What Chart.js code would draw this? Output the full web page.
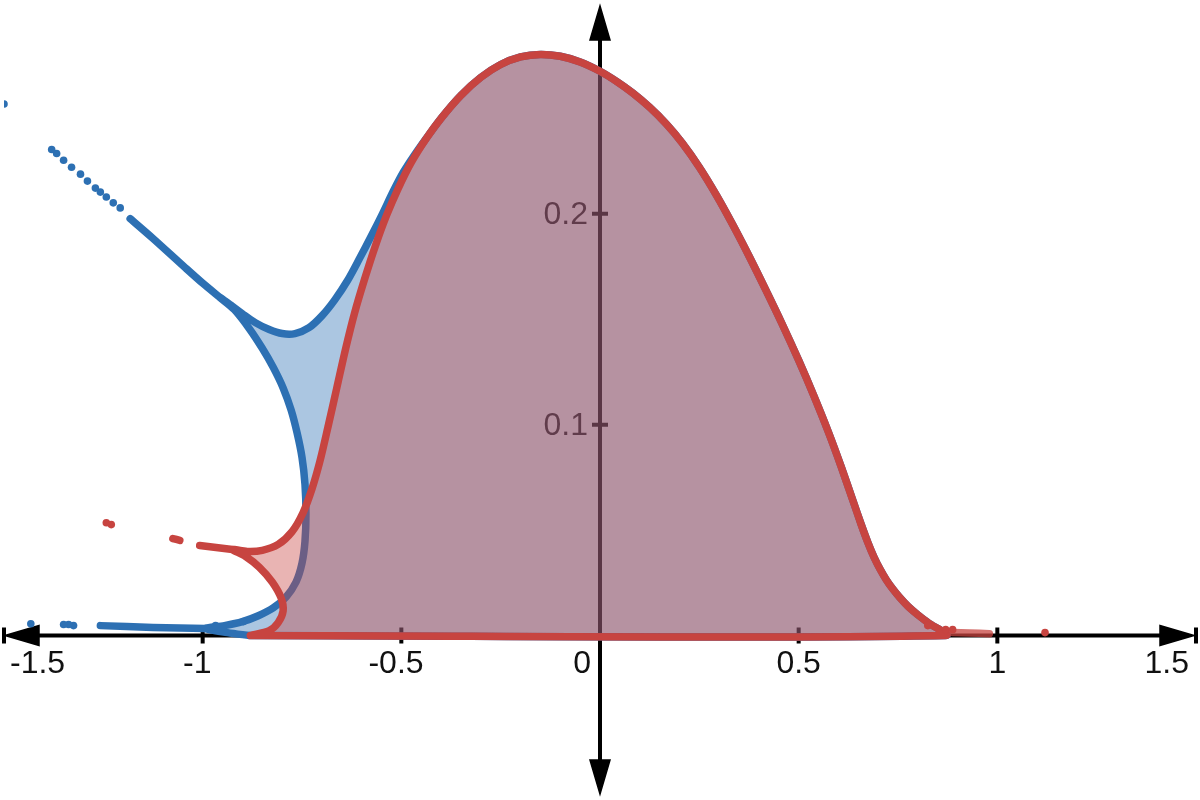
<!DOCTYPE html>
<html><head><meta charset="utf-8">
<script src="https://cdn.jsdelivr.net/npm/chart.js@4.4.1/dist/chart.umd.min.js"></script>
<style>html,body{margin:0;padding:0;background:#fff}#wrap{width:1200px;height:800px;position:relative}</style>
</head><body><div id="wrap"><canvas id="c"></canvas></div>
<script>
// ---- axis ticks ----
const xTickValues = [-1.5, -1, -0.5, 0.5, 1, 1.5];
const xTickLabels = ['-1.5', '-1', '-0.5', '0.5', '1', '1.5'];
const yTickValues = [0.1, 0.2];
const yTickLabels = ['0.1', '0.2'];
const originLabel = '0';
const xRange = [-1.5, 1.5];
const yRange = [-0.0761, 0.2995];

// ---- shared base and hump (right side, over the peak, to the left) ----
const baseX = [-0.88, 0.87];
const baseY = [0, 0];
const humpX = [0.825, 0.80, 0.775, 0.755, 0.7375, 0.72, 0.705, 0.69, 0.675, 0.6575, 0.6375, 0.6075, 0.575, 0.5375, 0.50, 0.4575, 0.4175, 0.375, 0.3325, 0.2925, 0.25, 0.2075, 0.1675, 0.125, 0.0825, 0.0425, 0, -0.05, -0.10, -0.15, -0.20, -0.25, -0.30, -0.35, -0.40];
const humpY = [0.0062, 0.0098, 0.0139, 0.0179, 0.0219, 0.0266, 0.0314, 0.0370, 0.0437, 0.0526, 0.0635, 0.0798, 0.0964, 0.1140, 0.1305, 0.1481, 0.1638, 0.1800, 0.1954, 0.2090, 0.2221, 0.2335, 0.2425, 0.2505, 0.2573, 0.2627, 0.2676, 0.2720, 0.2747, 0.2756, 0.2744, 0.2708, 0.2647, 0.2562, 0.2453];

// ---- red curve, left part (swallowtail) ----
const redLeftX = [-0.4375, -0.475, -0.5075, -0.5375, -0.565, -0.5925, -0.6175, -0.64, -0.6625, -0.685, -0.705, -0.725, -0.7475, -0.775, -0.81, -0.85, -0.8875, -0.925, -0.8925, -0.8575, -0.825, -0.8025, -0.7975, -0.81, -0.8325, -0.88];
const redLeftY = [0.2357, 0.2244, 0.2122, 0.1991, 0.1850, 0.1690, 0.1531, 0.1362, 0.1174, 0.0986, 0.0826, 0.0695, 0.0582, 0.0493, 0.0432, 0.0404, 0.0399, 0.0408, 0.0376, 0.0324, 0.0254, 0.0178, 0.0117, 0.0061, 0.0023, 0];
const redTailLeftX = [-0.925, -1.0075];
const redTailLeftY = [0.0408, 0.0427];
const redDashLeftX = [-1.0575, -1.075];
const redDashLeftY = [0.0451, 0.0460];
const redTailRightX = [0.8875, 0.93, 0.98];
const redTailRightY = [0.0014, 0.0012, 0.0009];
const redDotsX = [-1.23, -1.2425, 0.825, 0.87, 0.8875, 1.12];
const redDotsY = [0.0526, 0.0535, 0.0047, 0.0028, 0.0028, 0.0014];

// ---- blue curve, left part ----
const blueLeftX = [-0.4375, -0.4675, -0.495, -0.52, -0.5475, -0.575, -0.605, -0.635, -0.6675, -0.70, -0.7325, -0.7675, -0.80, -0.8325, -0.8675, -0.90, -0.93, -0.955, -0.92, -0.8825, -0.85, -0.8225, -0.7975, -0.7775, -0.7625, -0.75, -0.7425, -0.74, -0.7425, -0.75, -0.765, -0.79, -0.8225, -0.86, -0.90, -0.945, -0.9925, -0.9375, -0.8825];
const blueLeftY = [0.2357, 0.2277, 0.2197, 0.2108, 0.2000, 0.1897, 0.1789, 0.1685, 0.1592, 0.1516, 0.1460, 0.1432, 0.1432, 0.1451, 0.1484, 0.1526, 0.1568, 0.1601, 0.1545, 0.1455, 0.1362, 0.1272, 0.1174, 0.1070, 0.0962, 0.0845, 0.0718, 0.0577, 0.0446, 0.0343, 0.0254, 0.0183, 0.0131, 0.0094, 0.0066, 0.0047, 0.0033, 0.0014, 0];
const blueTailUpperX = [-0.955, -1.0, -1.0425, -1.125, -1.1825];
const blueTailUpperY = [0.1601, 0.1671, 0.1742, 0.1883, 0.1977];
const blueTailLowerX = [-0.9925, -1.125, -1.2575];
const blueTailLowerY = [0.0033, 0.0038, 0.0047];
const blueDotsX = [-1.2075, -1.225, -1.2425, -1.2575, -1.27, -1.29, -1.3075, -1.33, -1.35, -1.3675, -1.38, -1.5, -1.325, -1.3375, -1.35, -1.4325, -0.9675, -0.8975];
const blueDotsY = [0.2028, 0.2052, 0.2080, 0.2103, 0.2122, 0.2155, 0.2188, 0.2221, 0.2254, 0.2286, 0.2305, 0.2521, 0.0047, 0.0052, 0.0052, 0.0056, 0.0047, 0.0066];

const BLUE = '#2d70b3', RED = '#c74440';
const BLUE_FILL = 'rgba(45,112,179,0.4)', RED_FILL = 'rgba(199,68,64,0.4)';

const pts = (xs, ys) => xs.map((x, i) => ({x: x, y: ys[i]}));
const redShape = [...pts(baseX, baseY), ...pts(humpX, humpY), ...pts(redLeftX, redLeftY)];
const blueShape = [...pts(baseX, baseY), ...pts(humpX, humpY), ...pts(blueLeftX, blueLeftY)];

function lineDs(data, color, order, extra) {
  return Object.assign({data, showLine: true, borderColor: color, borderWidth: 7.5, pointRadius: 0,
    fill: false, tension: 0.3, borderCapStyle: 'round', borderJoinStyle: 'round', order}, extra || {});
}
function dotDs(data, color, order) {
  return {data, showLine: false, pointRadius: 3.8, pointBorderWidth: 0, backgroundColor: color,
    pointBackgroundColor: color, order};
}

const axesPlugin = {
  id: 'desmosAxes',
  beforeDatasetsDraw(chart) {
    const {ctx, chartArea: a, scales: {x, y}} = chart;
    const x0 = x.getPixelForValue(0), y0 = y.getPixelForValue(0);
    ctx.save();
    ctx.strokeStyle = '#000'; ctx.fillStyle = '#000'; ctx.lineWidth = 4;
    ctx.beginPath();
    ctx.moveTo(a.left + 20, y0); ctx.lineTo(a.right - 20, y0);
    ctx.moveTo(x0, a.top + 20); ctx.lineTo(x0, a.bottom - 20);
    xTickValues.forEach(v => { const p = x.getPixelForValue(v); ctx.moveTo(p, y0 - 8); ctx.lineTo(p, y0 + 8); });
    yTickValues.forEach(v => { const p = y.getPixelForValue(v); ctx.moveTo(x0 - 8, p); ctx.lineTo(x0 + 8, p); });
    ctx.stroke();
    // arrowheads
    const L = 34, H = 10;
    ctx.lineWidth = 1.5; ctx.lineJoin = 'miter';
    const tri = (p1, p2, p3) => { ctx.beginPath(); ctx.moveTo(...p1); ctx.lineTo(...p2); ctx.lineTo(...p3); ctx.closePath(); ctx.fill(); ctx.stroke(); };
    tri([a.left + 1, y0], [a.left + 1 + L, y0 - H], [a.left + 1 + L, y0 + H]);
    tri([a.right - 2, y0], [a.right - 2 - L, y0 - H], [a.right - 2 - L, y0 + H]);
    tri([x0, a.top + 2], [x0 - H, a.top + 2 + L], [x0 + H, a.top + 2 + L]);
    tri([x0, a.bottom - 2], [x0 - H, a.bottom - 2 - L], [x0 + H, a.bottom - 2 - L]);
    // labels
    ctx.font = "32px 'Liberation Sans', Arial, sans-serif";
    ctx.textBaseline = 'alphabetic'; ctx.textAlign = 'left';
    ctx.fillStyle = '#111';
    xTickValues.forEach((v, i) => {
      const s = xTickLabels[i];
      const p = x.getPixelForValue(v);
      const neg = s.startsWith('-');
      const body = neg ? s.slice(1) : s;
      const wb = ctx.measureText(body).width, wm = neg ? ctx.measureText('-').width : 0;
      let left = p - wb / 2 - wm;
      const total = wb + wm;
      if (left < a.left + 6) left = a.left + 6;
      if (left + total > a.right - 7) left = a.right - 7 - total;
      ctx.fillText(s, left, y0 + 37);
    });
    ctx.textAlign = 'right';
    ctx.fillText(originLabel, x0 - 9, y0 + 37);
    yTickValues.forEach((v, i) => {
      ctx.fillText(yTickLabels[i], x0 - 12, y.getPixelForValue(v) + 10);
    });
    ctx.restore();
  }
};

new Chart(document.getElementById('c'), {
  type: 'scatter',
  data: {
    datasets: [
      dotDs(pts(redDotsX, redDotsY), RED, 1),
      lineDs(pts(redTailLeftX, redTailLeftY), RED, 1),
      lineDs(pts(redDashLeftX, redDashLeftY), RED, 1),
      lineDs(pts(redTailRightX, redTailRightY), 'rgba(199,68,64,0.75)', 1),
      lineDs(redShape, RED, 2, {fill: 'shape', backgroundColor: RED_FILL}),
      dotDs(pts(blueDotsX, blueDotsY), BLUE, 3),
      lineDs(pts(blueTailUpperX, blueTailUpperY), BLUE, 3),
      lineDs(pts(blueTailLowerX, blueTailLowerY), BLUE, 3),
      lineDs(blueShape, BLUE, 4, {fill: 'shape', backgroundColor: BLUE_FILL})
    ]
  },
  options: {
    responsive: true, maintainAspectRatio: false, animation: false, devicePixelRatio: 1,
    events: [],
    layout: {padding: 0},
    plugins: {legend: {display: false}, tooltip: {enabled: false}},
    scales: {
      x: {type: 'linear', min: xRange[0], max: xRange[1], display: false},
      y: {type: 'linear', min: yRange[0], max: yRange[1], display: false}
    }
  },
  plugins: [axesPlugin]
});
</script>
</body></html>
